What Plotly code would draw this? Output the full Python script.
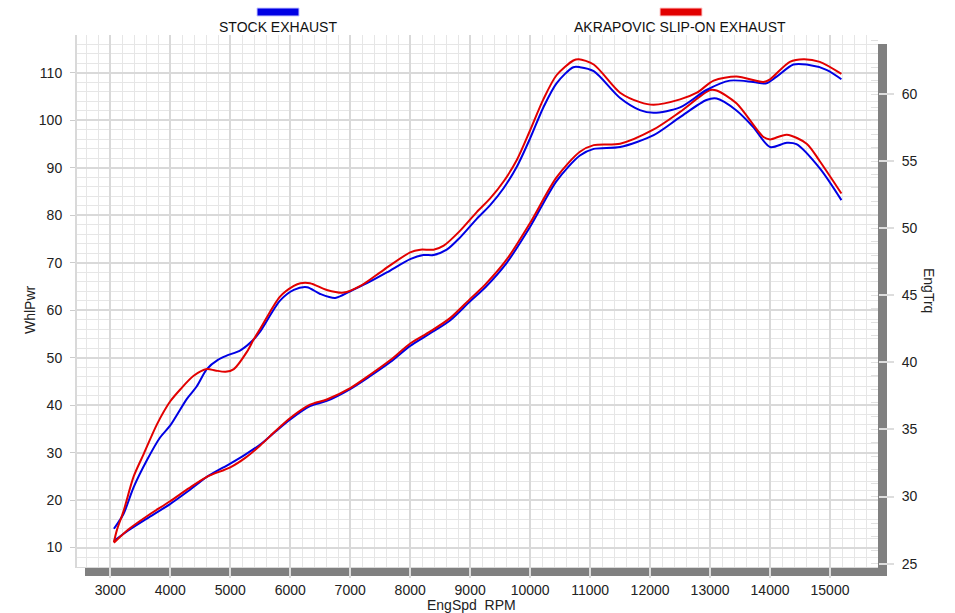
import plotly.graph_objects as go

# ---------------- data ----------------
rpm_pwr_stock = [3060, 3300, 3610, 3990, 4300, 4610, 5000, 5250, 5500, 5750, 6000, 6330, 6610, 7000, 7330,
                 7670, 8000, 8330, 8670, 9000, 9250, 9610, 10000, 10440, 10830, 11060, 11500, 12060, 12500,
                 12940, 13110, 13440, 13720, 14000, 14280, 14440, 14830, 15190]
pwr_stock = [11.4, 13.6, 16.1, 19.1, 21.9, 24.9, 27.7, 29.6, 31.7, 34.4, 37.0, 39.8, 40.9, 43.4, 46.1,
             49.1, 52.5, 55.1, 57.9, 61.9, 64.8, 70.0, 77.6, 87.2, 92.6, 94.0, 94.4, 96.9, 100.7,
             104.3, 104.6, 102.1, 98.6, 94.4, 95.3, 95.0, 89.9, 83.2]

rpm_pwr_akra = [3060, 3300, 3610, 3990, 4300, 4610, 5000, 5250, 5500, 5750, 6000, 6330, 6610, 7000, 7330,
                7670, 8000, 8330, 8670, 9000, 9250, 9610, 10000, 10440, 10830, 11060, 11500, 12060, 12500,
                13000, 13110, 13440, 13890, 14000, 14280, 14610, 14830, 15190]
pwr_akra = [11.0, 13.8, 16.6, 19.7, 22.4, 24.9, 26.9, 28.9, 31.5, 34.5, 37.3, 40.1, 41.2, 43.6, 46.4,
            49.5, 53.0, 55.5, 58.4, 62.4, 65.4, 70.7, 78.4, 88.0, 93.4, 94.8, 95.1, 98.1, 101.8,
            106.4, 106.3, 103.6, 96.5, 96.0, 97.0, 95.1, 91.4, 84.6]

rpm_trq_stock = [3060, 3220, 3390, 3610, 3830, 4000, 4280, 4440, 4610, 4800, 4940, 5170, 5390, 5500, 5830,
                 6060, 6280, 6500, 6750, 7000, 7280, 7610, 8000, 8220, 8390, 8610, 8830, 9110, 9330, 9560,
                 9780, 10000, 10220, 10440, 10720, 10830, 11060, 11500, 11830, 12060, 12500, 12940, 13330,
                 13720, 13940, 14110, 14390, 14610, 14940, 15190]
trq_stock = [27.6, 28.7, 30.7, 32.7, 34.4, 35.3, 37.3, 38.2, 39.5, 40.2, 40.5, 40.9, 41.7, 42.3, 44.6,
             45.4, 45.6, 45.1, 44.8, 45.3, 45.9, 46.7, 47.7, 48.0, 48.0, 48.4, 49.3, 50.7, 51.7, 53.0,
             54.6, 56.7, 59.0, 60.8, 62.0, 62.0, 61.7, 59.7, 58.8, 58.6, 59.0, 60.3, 61.0,
             60.9, 60.8, 61.3, 62.2, 62.2, 61.8, 61.1]

rpm_trq_akra = [3060, 3110, 3220, 3390, 3560, 3780, 4000, 4170, 4390, 4610, 4750, 4920, 5060, 5280, 5390,
                5500, 5830, 6060, 6170, 6330, 6610, 6890, 7170, 7560, 8000, 8170, 8390, 8560, 8830, 9110,
                9330, 9560, 9780, 10000, 10220, 10440, 10720, 10810, 11060, 11500, 11830, 12060, 12500,
                12780, 13060, 13440, 13890, 14000, 14330, 14560, 14830, 15190]
trq_akra = [26.6, 27.5, 28.9, 31.5, 33.2, 35.4, 37.1, 38.0, 39.0, 39.5, 39.4, 39.3, 39.5, 40.8, 41.7,
            42.5, 44.9, 45.7, 45.9, 45.9, 45.4, 45.2, 45.7, 46.9, 48.2, 48.4, 48.4, 48.7, 49.8, 51.2,
            52.2, 53.5, 55.1, 57.3, 59.6, 61.4, 62.5, 62.6, 62.2, 60.1, 59.4, 59.2, 59.6,
            60.1, 61.0, 61.3, 60.9, 61.1, 62.4, 62.6, 62.4, 61.5]

series_names = ["STOCK EXHAUST", "AKRAPOVIC SLIP-ON EXHAUST"]
series_colors = ["rgb(0,0,228)", "rgb(226,0,0)"]

x_title = "EngSpd\u00a0 RPM"
y_title = "WhlPwr"
y2_title = "EngTrq"

# ---------------- layout helpers ----------------
W, H = 955, 613
ML, MR, MT, MB = 77, 77, 35, 46
PW, PH = W - ML - MR, H - MT - MB


def px(xp):
    return (xp - ML) / PW


def py(yp):
    return (H - MB - yp) / PH


FONT = "Liberation Sans, Arial, sans-serif"
TXT = "#222222"
MAJ = "#d9d9d9"
MIN = "#e6e6e6"
BAR = "#808080"

fig = go.Figure()

traces = [
    (rpm_pwr_stock, pwr_stock, "y", 0),
    (rpm_trq_stock, trq_stock, "y2", 0),
    (rpm_pwr_akra, pwr_akra, "y", 1),
    (rpm_trq_akra, trq_akra, "y2", 1),
]
for xs, ys, ax, k in traces:
    fig.add_trace(go.Scatter(
        x=xs, y=ys, yaxis=ax, mode="lines", name=series_names[k],
        line=dict(color=series_colors[k], width=2, shape="spline", smoothing=0.8),
        showlegend=False, hoverinfo="skip"))

fig.update_layout(
    width=W, height=H,
    margin=dict(l=ML, r=MR, t=MT, b=MB, pad=0),
    paper_bgcolor="white", plot_bgcolor="white",
    font=dict(family=FONT, size=14, color=TXT),
    showlegend=False,
    xaxis=dict(
        range=[2445, 15800], tick0=3000, dtick=1000, tickformat="d",
        showgrid=True, gridcolor=MAJ, gridwidth=2,
        minor=dict(dtick=200, tick0=3000, showgrid=True, gridcolor=MIN, gridwidth=1, ticks=""),
        ticks="outside", ticklen=10, tickcolor="#dddddd", tickwidth=2,
        ticklabelstandoff=0,
        showline=True, linecolor=MAJ, linewidth=1,
        zeroline=False, tickfont=dict(size=14, color=TXT),
    ),
    yaxis=dict(
        range=[5.9, 118], tick0=10, dtick=10,
        showgrid=True, gridcolor=MAJ, gridwidth=2,
        minor=dict(dtick=2, tick0=10, showgrid=True, gridcolor=MIN, gridwidth=1, ticks=""),
        ticks="outside", ticklen=5, tickcolor="#cccccc", tickwidth=1,
        ticklabelstandoff=5,
        showline=True, linecolor=MAJ, linewidth=2,
        zeroline=False, tickfont=dict(size=14, color=TXT),
    ),
    yaxis2=dict(
        overlaying="y", side="right",
        range=[24.75, 64.4], tick0=25, dtick=5,
        showgrid=False, zeroline=False, showline=False,
        ticks="outside", ticklen=15, tickcolor="#dddddd", tickwidth=2,
        minor=dict(dtick=1, ticks="inside", ticklen=7, tickcolor="#e0e0e0", tickwidth=1, showgrid=False),
        ticklabelstandoff=5,
        tickfont=dict(size=14, color=TXT),
    ),
)

shapes = [
    # right gray axis bar
    dict(type="rect", xref="paper", yref="paper", x0=px(878), x1=px(887), y0=py(576), y1=py(44),
         fillcolor=BAR, line=dict(width=0), layer="below"),
    # bottom gray axis bar
    dict(type="rect", xref="paper", yref="paper", x0=px(85), x1=px(887), y0=py(576), y1=py(567),
         fillcolor=BAR, line=dict(width=0), layer="below"),
    # legend swatches
    dict(type="rect", xref="paper", yref="paper", x0=px(257), x1=px(299), y0=py(16), y1=py(8),
         fillcolor=series_colors[0], line=dict(width=1, color="#c8c8ff"), layer="above"),
    dict(type="rect", xref="paper", yref="paper", x0=px(660), x1=px(702), y0=py(16), y1=py(8),
         fillcolor=series_colors[1], line=dict(width=1, color="#ffc8c8"), layer="above"),
]
fig.update_layout(shapes=shapes)

annotations = [
    dict(text=series_names[0], x=px(278), y=py(27), xref="paper", yref="paper", showarrow=False,
         xanchor="center", yanchor="middle", font=dict(size=14, color="#111111")),
    dict(text=series_names[1], x=px(680), y=py(27), xref="paper", yref="paper", showarrow=False,
         xanchor="center", yanchor="middle", font=dict(size=14, color="#111111")),
    dict(text=x_title, x=px(471), y=py(605), xref="paper", yref="paper", showarrow=False,
         xanchor="center", yanchor="middle", font=dict(size=14, color=TXT)),
    dict(text=y_title, x=px(30), y=py(310), xref="paper", yref="paper", showarrow=False,
         xanchor="center", yanchor="middle", textangle=-90, font=dict(size=14, color=TXT)),
    dict(text=y2_title, x=px(929), y=py(290), xref="paper", yref="paper", showarrow=False,
         xanchor="center", yanchor="middle", textangle=90, font=dict(size=14, color=TXT)),
]
fig.update_layout(annotations=annotations)

fig.write_html("out.html", config={"displayModeBar": False},
               post_script="document.body.style.margin='0px';document.body.style.overflow='hidden';")
